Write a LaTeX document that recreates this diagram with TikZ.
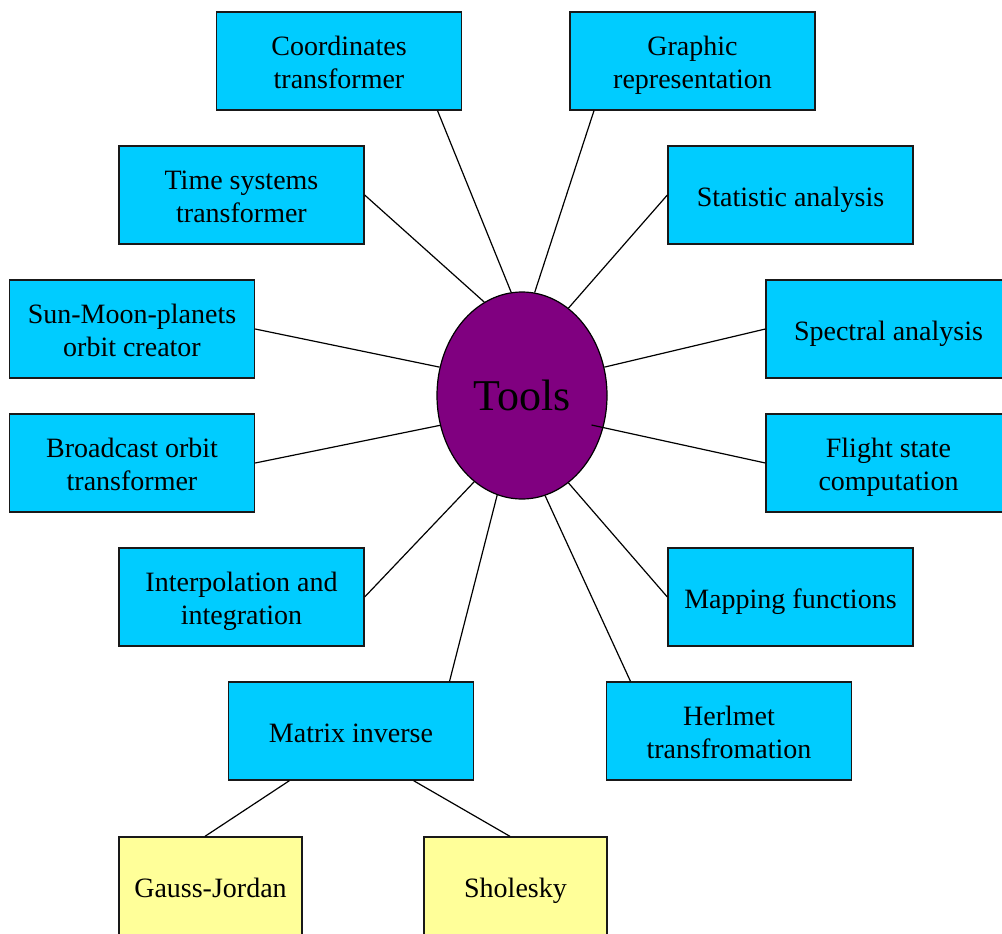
\documentclass[tikz,border=0pt]{standalone}
\usepackage{fontspec}
\setmainfont{Liberation Serif}
\usetikzlibrary{shapes.geometric,calc}
\definecolor{boxcyan}{HTML}{00CCFF}
\definecolor{boxyellow}{HTML}{FFFF99}
\definecolor{toolpurple}{HTML}{800080}
\tikzset{
  toolbox/.style={draw=black!90, line width=1.3pt, fill=boxcyan, minimum width=245pt, minimum height=98pt,
    inner sep=0pt, align=center, font=\fontsize{28}{33}\selectfont},
  oneline/.style={text height=22pt, text depth=0pt},
  twoline/.style={text height=55pt, text depth=0pt},
  subbox/.style={toolbox, oneline, fill=boxyellow, minimum width=183pt, minimum height=98pt},
  hub/.style={ellipse, draw=black, line width=1.2pt, fill=toolpurple, minimum width=170pt, minimum height=207pt,
    inner sep=0pt, font=\fontsize{44}{50}\selectfont},
  link/.style={line width=1.2pt, black}
}
\begin{document}
\begin{tikzpicture}[x=1pt,y=-1pt]
\useasboundingbox (0,0) rectangle (1002,934);
\node[hub] (tools) at (522,395.5) {Tools};
\node[toolbox,twoline] (coord) at (339,61) {Coordinates\\transformer};
\node[toolbox,twoline] (graph) at (692.5,61) {Graphic\\representation};
\node[toolbox,twoline] (time) at (241.5,195) {Time systems\\transformer};
\node[toolbox,oneline] (stat) at (790.5,195) {Statistic analysis};
\node[toolbox,twoline] (sun) at (132,329) {Sun-Moon-planets\\orbit creator};
\node[toolbox,oneline] (spec) at (888.5,329) {Spectral analysis};
\node[toolbox,twoline] (broad) at (132,463) {Broadcast orbit\\transformer};
\node[toolbox,twoline] (flight) at (888.5,463) {Flight state\\computation};
\node[toolbox,twoline] (interp) at (241.5,597) {Interpolation and\\integration};
\node[toolbox,oneline] (map) at (790.5,597) {Mapping functions};
\node[toolbox,oneline] (matrix) at (351,731) {Matrix inverse};
\node[toolbox,twoline] (herl) at (729,731) {Herlmet\\transfromation};
\node[subbox] (gauss) at (210.5,886) {Gauss-Jordan};
\node[subbox] (shol) at (515.5,886) {Sholesky};
\draw[link] ($(coord.south west)!0.9!(coord.south east)$) -- (tools.96.6);
\draw[link] ($(graph.south west)!0.1!(graph.south east)$) -- (tools.83.3);
\draw[link] (time.east) -- (tools.112.7);
\draw[link] (stat.west) -- (tools.62.2);
\draw[link] (sun.east) -- (tools.161.2);
\draw[link] (spec.west) -- (tools.19.7);
\draw[link] (broad.east) -- (tools.200);
\draw[link] (flight.west) -- ($(tools.center)!0.86!(tools.-23)$);
\draw[link] (interp.east) -- (tools.241.7);
\draw[link] (map.west) -- (tools.298);
\draw[link] ($(matrix.north west)!0.9!(matrix.north east)$) -- (tools.256);
\draw[link] ($(herl.north west)!0.1!(herl.north east)$) -- (tools.283);
\draw[link] ($(matrix.south west)!0.25!(matrix.south east)$) -- ($(gauss.north west)!0.47!(gauss.north east)$);
\draw[link] ($(matrix.south west)!0.754!(matrix.south east)$) -- ($(shol.north west)!0.47!(shol.north east)$);
\end{tikzpicture}
\end{document}
